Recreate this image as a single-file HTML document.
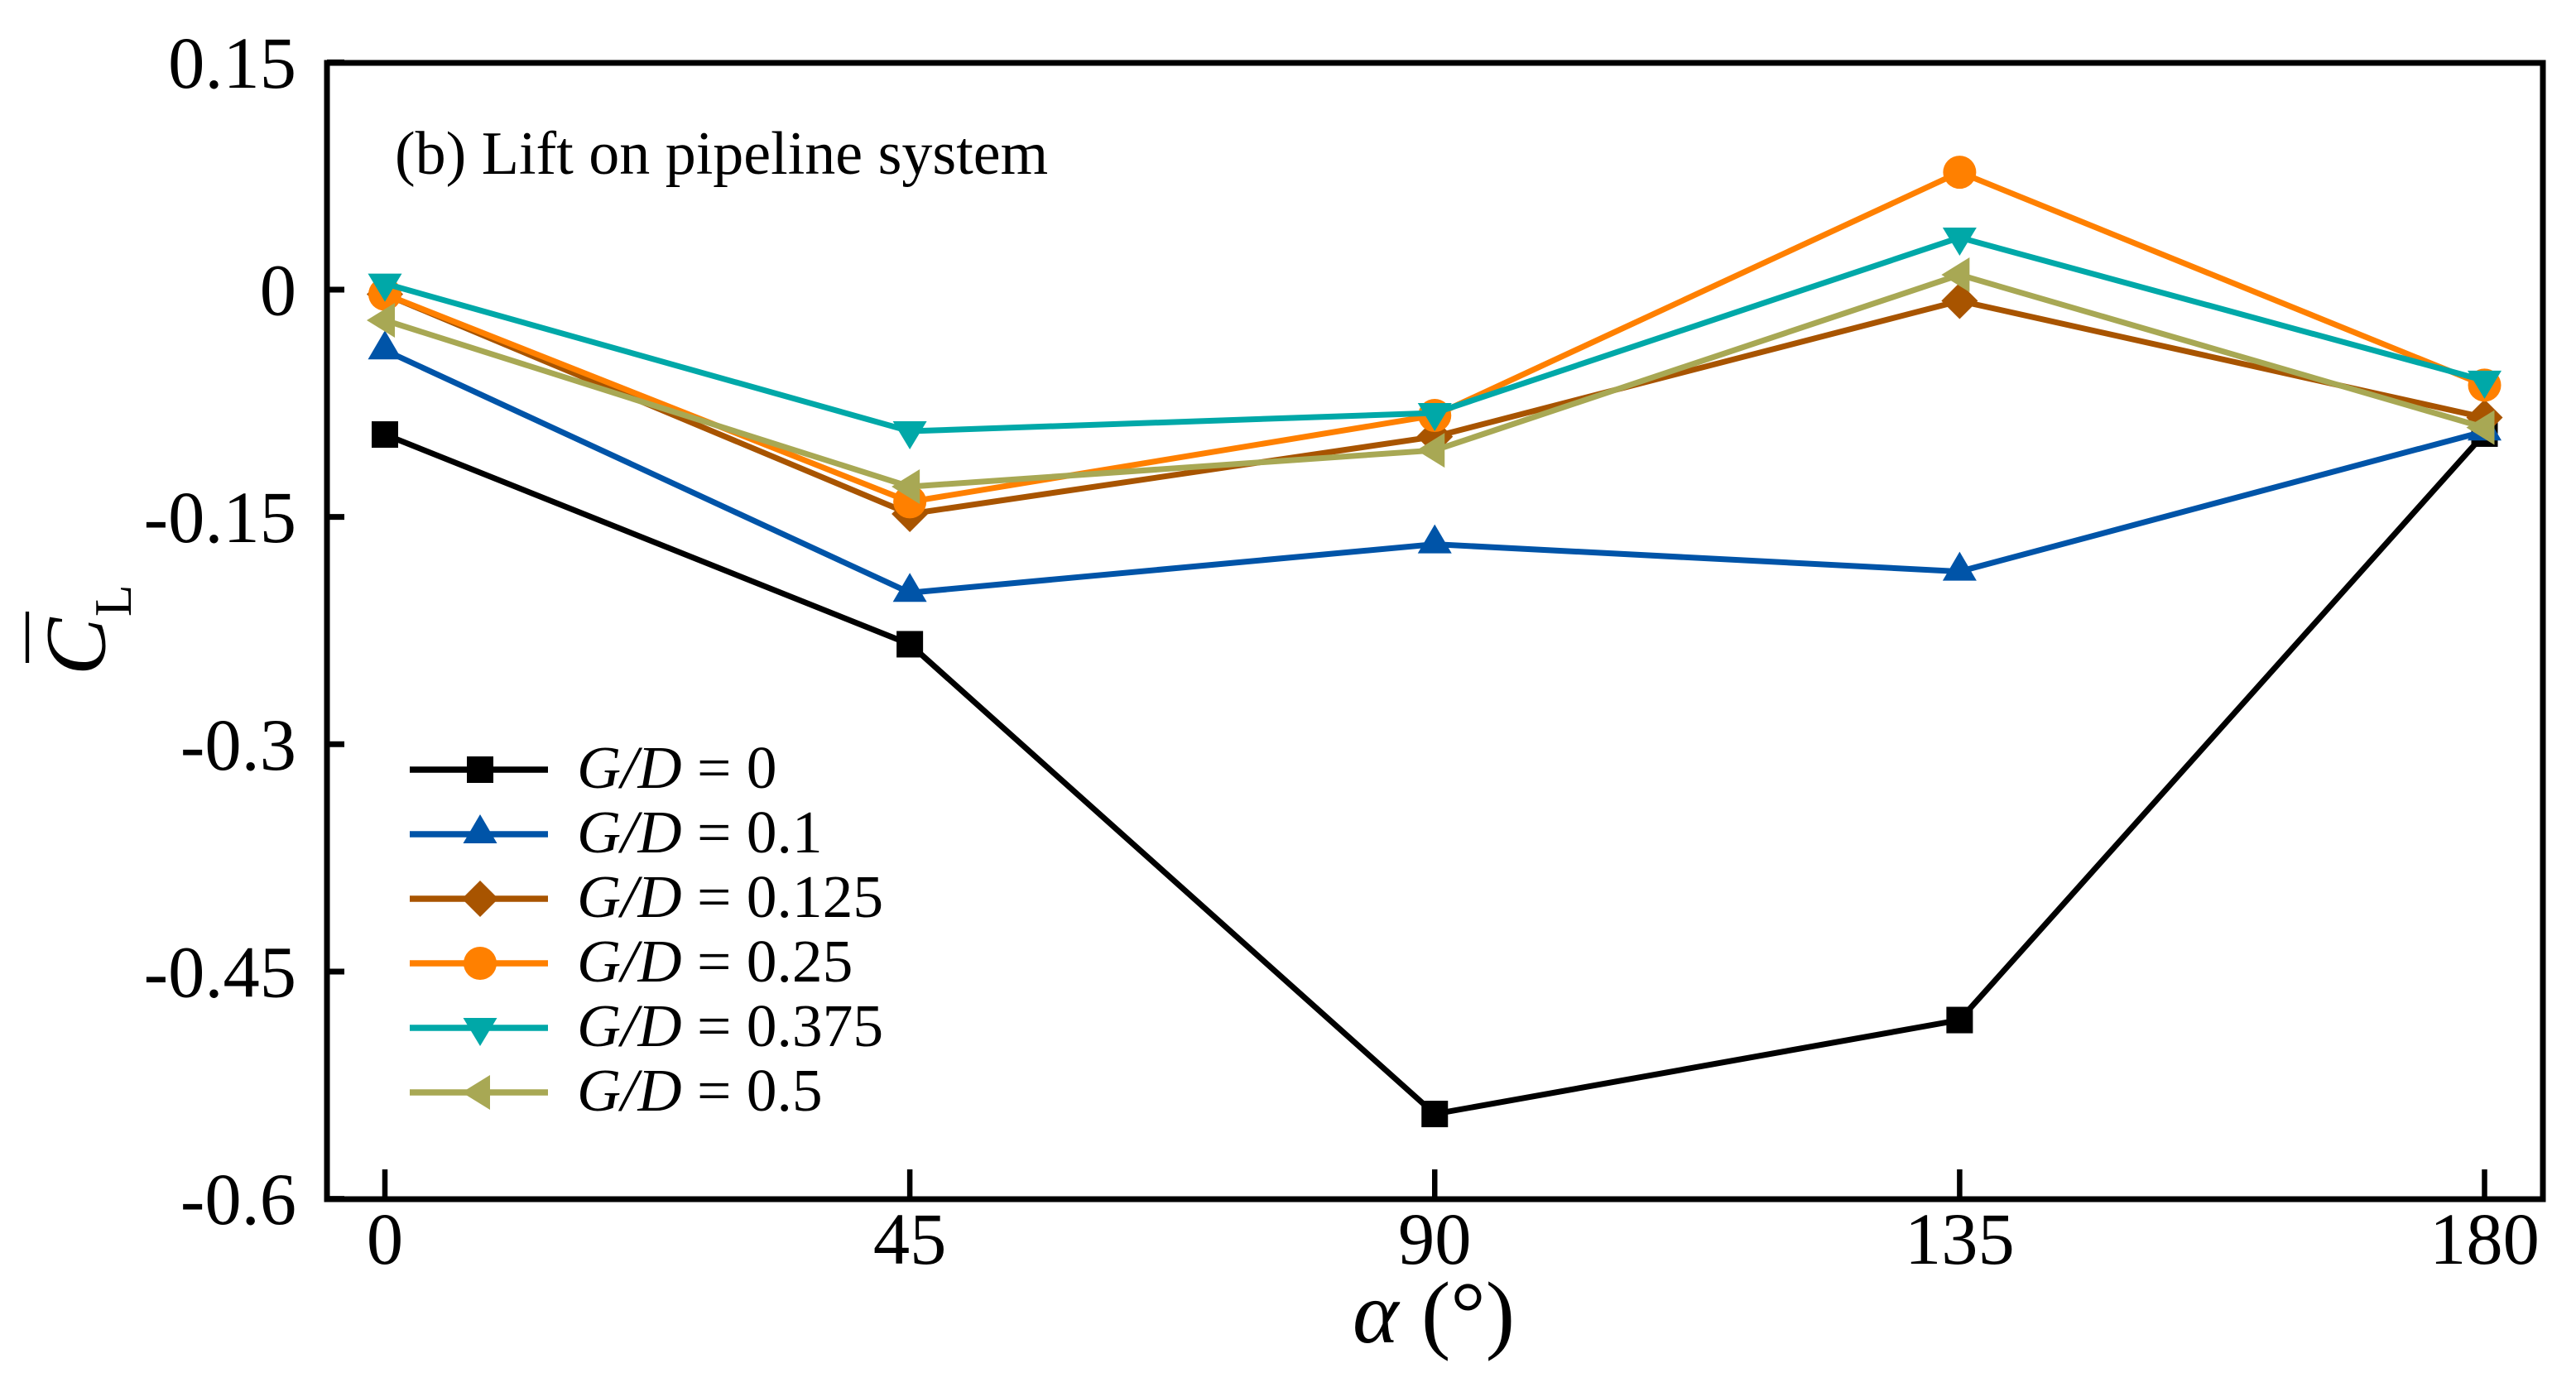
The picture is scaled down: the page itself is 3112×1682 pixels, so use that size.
<!DOCTYPE html>
<html>
<head>
<meta charset="utf-8">
<title>Lift on pipeline system</title>
<style>
html,body{margin:0;padding:0;background:#fff;width:3112px;height:1682px;overflow:hidden}
svg{display:block}
text{font-family:"Liberation Serif","Times New Roman",serif;fill:#000}
</style>
</head>
<body>
<svg id="chart" xmlns="http://www.w3.org/2000/svg" width="3112" height="1682" viewBox="0 0 3112 1682">
  <rect x="0" y="0" width="3112" height="1682" fill="#fff"/>
  <g id="series-layer"></g>
  <g id="axes-layer"></g>
  <text x="477" y="210" font-size="74">(b) Lift on pipeline system</text>
  <text y="1622" font-size="106"><tspan x="1634" font-style="italic">α</tspan><tspan x="1717">(°)</tspan></text>
  <g>
    <text transform="translate(126.5,816) rotate(-90)" font-size="104" font-style="italic">C</text>
    <text transform="translate(158,745) rotate(-90)" font-size="63">L</text>
    <line x1="33" y1="739" x2="33" y2="801" stroke="#000" stroke-width="4.3"/>
  </g>
  <g id="legend-layer"></g>
</svg>
<script>
const angles = [0, 45, 90, 135, 180];
const xTickLabels = ['0', '45', '90', '135', '180'];
const yTicks = [0.15, 0, -0.15, -0.3, -0.45, -0.6];
const yTickLabels = ['0.15', '0', '-0.15', '-0.3', '-0.45', '-0.6'];
const gapLabels = ['0', '0.1', '0.125', '0.25', '0.375', '0.5'];
const seriesGD0 = [-0.0956, -0.234, -0.544, -0.482, -0.095];
const seriesGD01 = [-0.04, -0.2, -0.168, -0.186, -0.0935];
const seriesGD0125 = [-0.003, -0.148, -0.097, -0.0074, -0.0844];
const seriesGD025 = [-0.003, -0.14, -0.083, 0.0775, -0.063];
const seriesGD0375 = [0.004, -0.0934, -0.0814, 0.0344, -0.06];
const seriesGD05 = [-0.0202, -0.13, -0.106, 0.0098, -0.091];

const seriesValues = [seriesGD0, seriesGD01, seriesGD0125, seriesGD025, seriesGD0375, seriesGD05];
const colors = ['#000000', '#0054A8', '#A85400', '#FF8000', '#00A8A8', '#A8A854'];
const shapes = ['square', 'up', 'diamond', 'circle', 'down', 'left'];

const NS = 'http://www.w3.org/2000/svg';
const plot = {left: 395, right: 3072, top: 76, bottom: 1449};
const x0 = 465, xPerDeg = 14.0917;
const y0 = 350, yPerUnit = 1831;
function xScale(v) { return x0 + v * xPerDeg; }
function yScale(v) { return y0 - v * yPerUnit; }

function make(tag, attrs, parent) {
  const el = document.createElementNS(NS, tag);
  for (const k in attrs) el.setAttribute(k, attrs[k]);
  parent.appendChild(el);
  return el;
}
function marker(shape, x, y, color, parent) {
  let el;
  if (shape === 'square') {
    el = make('rect', {x: x - 16, y: y - 16, width: 32, height: 32, fill: color}, parent);
  } else if (shape === 'circle') {
    el = make('circle', {cx: x, cy: y, r: 20, fill: color}, parent);
  } else {
    let pts = [];
    if (shape === 'up') pts = [[x, y - 24], [x + 20.5, y + 11], [x - 20.5, y + 11]];
    if (shape === 'down') pts = [[x - 20.5, y - 12], [x + 20.5, y - 12], [x, y + 22]];
    if (shape === 'left') pts = [[x - 22, y], [x + 12, y - 21], [x + 12, y + 21]];
    if (shape === 'diamond') pts = [[x, y - 22], [x + 22, y], [x, y + 22], [x - 22, y]];
    el = make('polygon', {points: pts.map(p => p.join(',')).join(' '), fill: color}, parent);
  }
  return el;
}

const seriesLayer = document.getElementById('series-layer');
seriesValues.forEach(function (vals, i) {
  const g = make('g', {}, seriesLayer);
  
  
  const line = make('polyline', {
    points: vals.map((v, j) => xScale(angles[j]) + ',' + yScale(v)).join(' '),
    fill: 'none', stroke: colors[i], 'stroke-width': 7, 'stroke-linejoin': 'miter'
  }, g);
  
  
  vals.forEach(function (v, j) {
    const m = marker(shapes[i], xScale(angles[j]), yScale(v), colors[i], g);
    
    
  });
});

const axes = document.getElementById('axes-layer');
const frame = make('rect', {
  x: plot.left, y: plot.top, width: plot.right - plot.left, height: plot.bottom - plot.top,
  fill: 'none', stroke: '#000', 'stroke-width': 7
}, axes);



yTicks.forEach(function (v, i) {
  const y = yScale(v);
  const t = make('line', {x1: plot.left, x2: plot.left + 21, y1: y, y2: y, stroke: '#000', 'stroke-width': 7}, axes);
  
  
  const lab = make('text', {x: 358, y: y + 30.5, 'font-size': 88.5, 'text-anchor': 'end'}, axes);
  lab.textContent = yTickLabels[i];
  
  
});

angles.forEach(function (a, i) {
  const x = xScale(a);
  const t = make('line', {x1: x, x2: x, y1: plot.bottom, y2: plot.bottom - 36, stroke: '#000', 'stroke-width': 6.5}, axes);
  
  
  const lab = make('text', {x: x, y: 1527, 'font-size': 88.5, 'text-anchor': 'middle'}, axes);
  lab.textContent = xTickLabels[i];
  
  
});

const legend = document.getElementById('legend-layer');
gapLabels.forEach(function (lbl, i) {
  const y = 930 + i * 78;
  const g = make('g', {}, legend);
  
  
  make('line', {x1: 495, x2: 662, y1: y, y2: y, stroke: colors[i], 'stroke-width': 7.5}, g);
  marker(shapes[i], 580, y, colors[i], g);
  const txt = make('text', {x: 697, y: y + 22, 'font-size': 73.5}, g);
  const it = make('tspan', {'font-style': 'italic'}, txt);
  it.textContent = 'G/D';
  txt.appendChild(document.createTextNode(' = ' + lbl));
});
</script>
</body>
</html>
